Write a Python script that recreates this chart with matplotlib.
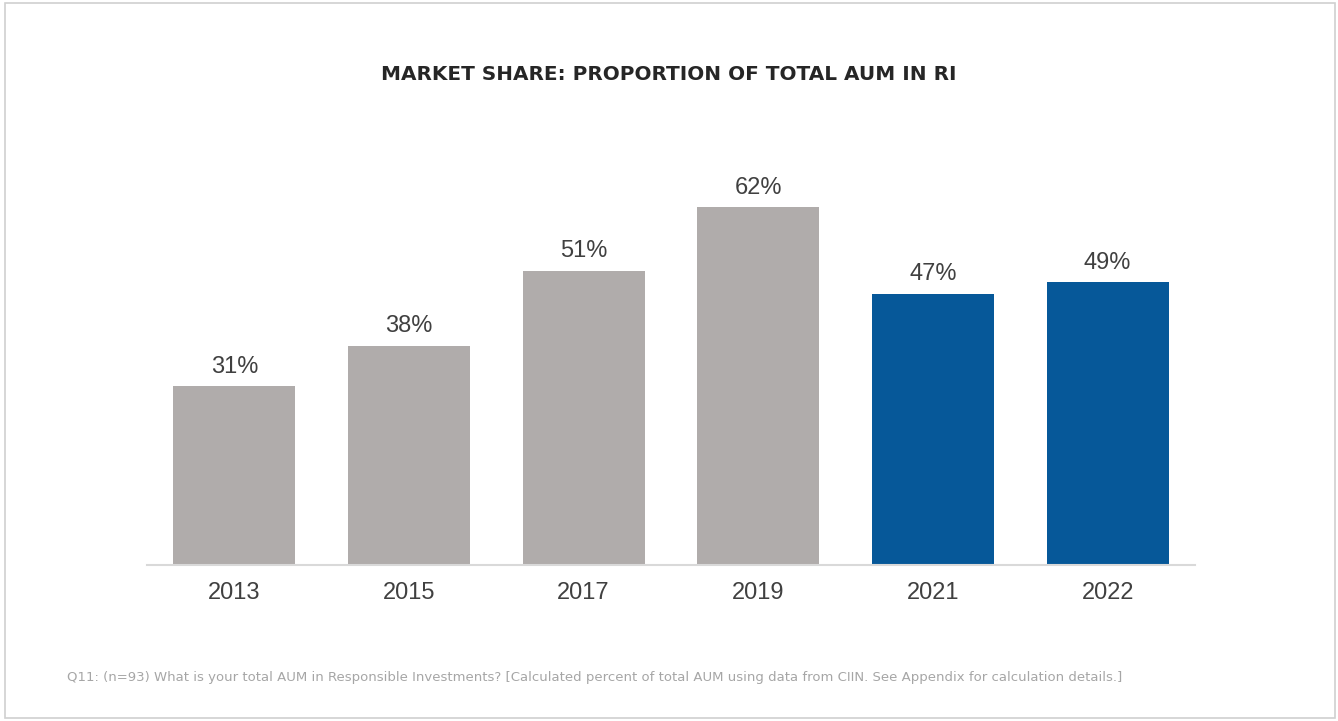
import matplotlib.pyplot as plt
from matplotlib.patches import Rectangle

years = ['2013', '2015', '2017', '2019', '2021', '2022']
share = [31, 38, 51, 62, 47, 49]
colors = ['#B0ACAB', '#B0ACAB', '#B0ACAB', '#B0ACAB', '#065899', '#065899']

title = 'MARKET SHARE: PROPORTION OF TOTAL AUM IN RI'
note = ('Q11: (n=93) What is your total AUM in Responsible Investments? '
        '[Calculated percent of total AUM using data from CIIN. '
        'See Appendix for calculation details.]')

fig = plt.figure(figsize=(13.38, 7.21), dpi=100)
fig.patch.set_facecolor('white')

# thin frame round the whole slide
fig.patches.append(Rectangle((5 / 1338, 3 / 721), 1330 / 1338, 715 / 721,
                             transform=fig.transFigure, fill=False,
                             edgecolor='#D0D0D0', linewidth=1.2))

ax = fig.add_axes([147 / 1338, 156 / 721, 1048 / 1338, 433 / 721])
x = range(len(years))
bars = ax.bar(x, share, width=0.70, color=colors)
ax.set_xlim(-0.5, len(years) - 0.5)
ax.set_ylim(0, 75)

for b, v in zip(bars, share):
    ax.annotate(f'{v}%', (b.get_x() + b.get_width() / 2, v),
                xytext=(0, 6), textcoords='offset points',
                ha='center', va='bottom', fontsize=17,
                family='Liberation Sans', color='#404040')

ax.set_xticks(list(x))
ax.set_xticklabels(years, fontsize=17, family='Liberation Sans', color='#404040')
ax.tick_params(axis='x', length=0, pad=12)
ax.set_yticks([])
for s in ['top', 'left', 'right']:
    ax.spines[s].set_visible(False)
ax.spines['bottom'].set_color('#D9D9D9')
ax.spines['bottom'].set_linewidth(1.5)

fig.text(0.5, 1 - 75 / 721, title, ha='center', va='center',
         fontsize=14.4, fontweight='bold', family='DejaVu Sans', color='#262626')
fig.text(67 / 1338, 1 - 677 / 721, note, ha='left', va='center',
         fontsize=9.5, family='DejaVu Sans', color='#A6A6A6')

fig.savefig('out.png', dpi=100)
